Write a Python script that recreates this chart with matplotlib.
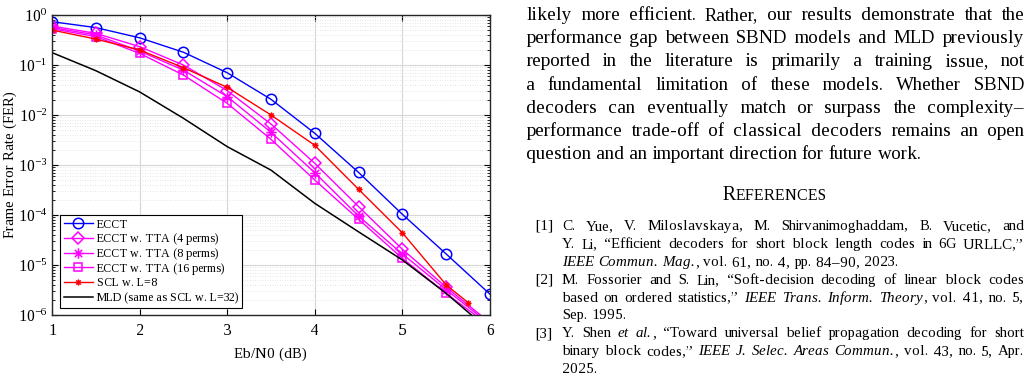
import matplotlib
matplotlib.use('Agg')
import matplotlib.pyplot as plt
from matplotlib.transforms import IdentityTransform
from matplotlib.ticker import LogLocator, NullFormatter
from matplotlib.font_manager import findfont, FontProperties, get_font
from matplotlib.backends.backend_agg import get_hinting_flag
from matplotlib.path import Path
try:
    from matplotlib.ft2font import Kerning
    KERN = Kerning.DEFAULT
except ImportError:
    KERN = 0

# curves
snr = [1, 1.5, 2, 2.5, 3, 3.5, 4, 4.5, 5, 5.5, 6]
ecct = [0.735, 0.56, 0.35, 0.18, 0.070, 0.0206, 0.0043, 7.1e-4, 1.03e-4, 1.66e-5, 2.6e-6]
tta4 = [0.60, 0.43, 0.233, 0.10, 0.0307, 0.0066, 0.00108, 1.47e-4, 2.06e-5, 3.6e-6, 7e-7]
tta8 = [0.56, 0.40, 0.19, 0.079, 0.0233, 0.0045, 7.0e-4, 9.5e-5, 1.66e-5, 3.2e-6, 6.5e-7]
tta16 = [0.53, 0.37, 0.171, 0.063, 0.0171, 0.00326, 5.0e-4, 8.2e-5, 1.36e-5, 2.7e-6, 6e-7]
scl_snr = [1, 1.5, 2, 2.5, 3, 3.5, 4, 4.5, 5, 5.5, 5.75]
scl8 = [0.5, 0.33, 0.2, 0.0885, 0.0357, 0.01, 0.00247, 3.26e-4, 4.4e-5, 4e-6, 1.77e-6]
mld = [0.177, 0.077, 0.029, 0.0086, 0.00233, 7.9e-4, 1.71e-4, 4.6e-5, 1.26e-5, 2.7e-6, 4.8e-7]

labels = ['ECCT', 'ECCT w. TTA (4 perms)', 'ECCT w. TTA (8 perms)',
          'ECCT w. TTA (16 perms)', 'SCL w. L=8', 'MLD (same as SCL w. L=32)']

# page text next to the figure
body = [
    "likely more efficient. Rather, our results demonstrate that the",
    "performance gap between SBND models and MLD previously",
    "reported in the literature is primarily a training issue, not",
    "a fundamental limitation of these models. Whether SBND",
    "decoders can eventually match or surpass the complexity–",
    "performance trade-off of classical decoders remains an open",
    "question and an important direction for future work.",
]
refs = [
    ("[1]", [
        "C. Yue, V. Miloslavskaya, M. Shirvanimoghaddam, B. Vucetic, and",
        "Y. Li, “Efficient decoders for short block length codes in 6G URLLC,”",
        "*IEEE Commun. Mag.*, vol. 61, no. 4, pp. 84–90, 2023."]),
    ("[2]", [
        "M. Fossorier and S. Lin, “Soft-decision decoding of linear block codes",
        "based on ordered statistics,” *IEEE Trans. Inform. Theory*, vol. 41, no. 5,",
        "Sep. 1995."]),
    ("[3]", [
        "Y. Shen *et al.*, “Toward universal belief propagation decoding for short",
        "binary block codes,” *IEEE J. Selec. Areas Commun.*, vol. 43, no. 5, Apr.",
        "2025."]),
]

SERIF = ['Liberation Serif', 'DejaVu Serif']
plt.rcParams['font.family'] = SERIF
plt.rcParams['mathtext.fontset'] = 'stix'
# whole-pixel glyph advances, so the widths measured below match what Agg draws
plt.rcParams['text.hinting'] = 'force_autohint'
plt.rcParams['text.hinting_factor'] = 1

# matlab style asterisk marker
star = Path([(-1, 0), (1, 0), (0, -1), (0, 1), (-0.7, -0.7), (0.7, 0.7), (-0.7, 0.7), (0.7, -0.7)],
            [Path.MOVETO, Path.LINETO] * 4)

W, H = 1035, 382
fig = plt.figure(figsize=(W / 100, H / 100), dpi=100)
ax = fig.add_axes([52 / W, 1 - 315 / H, 438 / W, 300 / H])

ax.semilogy(snr, ecct, '-o', color='#0000ff', lw=1, ms=7.5, mfc='none', mew=1.1, label=labels[0])
ax.semilogy(snr, tta4, '-D', color='#ff00ff', lw=1, ms=6, mfc='none', mew=1.1, label=labels[1])
ax.semilogy(snr, tta8, '-', marker=star, color='#ff00ff', lw=1, ms=7.5, mew=1.1, label=labels[2])
ax.semilogy(snr, tta16, '-s', color='#ff00ff', lw=1, ms=6, mfc='none', mew=1.1, label=labels[3])
ax.semilogy(scl_snr, scl8, '-', marker=star, color='#ff0000', lw=1, ms=4.5, mew=1.0, label=labels[4])
ax.semilogy(snr, mld, '-', color='black', lw=1.1, label=labels[5])

ax.set_xlim(1, 6)
ax.set_ylim(1e-6, 1)
ax.set_xticks([1, 2, 3, 4, 5, 6])
ax.yaxis.set_major_locator(LogLocator(base=10, numticks=10))
ax.yaxis.set_minor_locator(LogLocator(base=10, subs=range(2, 10), numticks=100))
ax.yaxis.set_minor_formatter(NullFormatter())
ax.grid(True, which='major', color='#d6d6d6', lw=0.8)
ax.grid(True, which='minor', axis='y', color='#dcdcdc', lw=0.6, ls=(0, (1, 2)))
ax.set_axisbelow(True)
ax.tick_params(which='both', direction='in', top=True, right=True, labelsize=11.5)
ax.tick_params(which='major', length=4, width=0.8)
ax.tick_params(which='minor', length=2.5, width=0.6)
ax.tick_params(axis='x', pad=6)
for s in ax.spines.values():
    s.set_linewidth(1.0)
    s.set_color('#262626')

ax.set_xlabel('Eb/N0 (dB)', fontsize=10.5)
ax.set_ylabel('Frame Error Rate (FER)', fontsize=10.5)
ax.xaxis.set_label_coords(0.5, -0.11)
ax.yaxis.set_label_coords(-0.08, 0.5)

leg = ax.legend(loc='lower left', bbox_to_anchor=(0.018, 0.024), fontsize=8.8,
                fancybox=False, framealpha=1, edgecolor='black',
                handlelength=2.4, labelspacing=0.22, borderpad=0.3,
                handletextpad=0.3, borderaxespad=0)
leg.get_frame().set_linewidth(0.8)


def adv_width(txt, size, italic):
    # pen advance in pixels as Agg lays the string out (hinted advances + kerning)
    f = get_font(findfont(FontProperties(family=SERIF, style='italic' if italic else 'normal')),
                 hinting_factor=1)
    f.set_size(size, 100)
    w = 0.0
    prev = None
    for c in txt:
        idx = f.get_char_index(ord(c))
        if prev is not None:
            w += f.get_kerning(prev, idx, KERN) / 64
        g = f.load_char(ord(c), flags=get_hinting_flag())
        w += g.horiAdvance / 64
        prev = idx
    return w


def words_of(line):
    # split into words, each a list of (text, italic) pieces; '*' toggles italics
    out = []
    ital = False
    for tok in line.split(' '):
        pieces = []
        parts = tok.split('*')
        for i, p in enumerate(parts):
            if i > 0:
                ital = not ital
            if p:
                pieces.append((p, ital))
        out.append(pieces)
    return out


def put_line(line, x0, x1, yb, size, justify=True):
    words = words_of(line)
    widths = [sum(adv_width(t, size, it) for t, it in w) for w in words]
    space = adv_width(' ', size, False)
    if justify and len(words) > 1:
        space = (x1 - x0 - sum(widths)) / (len(words) - 1)
    x = x0
    for w, tw in zip(words, widths):
        xx = x
        for txt, it in w:
            fig.text(xx, H - yb, txt, fontsize=size, family=SERIF,
                     style='italic' if it else 'normal',
                     va='baseline', ha='left', transform=IdentityTransform())
            xx += adv_width(txt, size, it)
        x += tw + space


for i, line in enumerate(body):
    put_line(line, 526, 1024, 20 + 23.2 * i, 13.8, justify=(i < len(body) - 1))

# small caps heading, centred on the column
w_r = adv_width('R', 14.3, False)
w_rest = adv_width('EFERENCES', 11.5, False)
hx = 775 - (w_r + w_rest) / 2
fig.text(hx, H - 200, 'R', fontsize=14.3, family=SERIF, ha='left',
         va='baseline', transform=IdentityTransform())
fig.text(hx + w_r, H - 200, 'EFERENCES', fontsize=11.5, family=SERIF, ha='left',
         va='baseline', transform=IdentityTransform())

yb = 230
for num, lines in refs:
    fig.text(535, H - yb, num, fontsize=11.1, family=SERIF, ha='left',
             va='baseline', transform=IdentityTransform())
    for j, line in enumerate(lines):
        put_line(line, 562, 1024, yb, 11.1, justify=(j < len(lines) - 1))
        yb += 17.9

fig.savefig('out.png', dpi=100)
